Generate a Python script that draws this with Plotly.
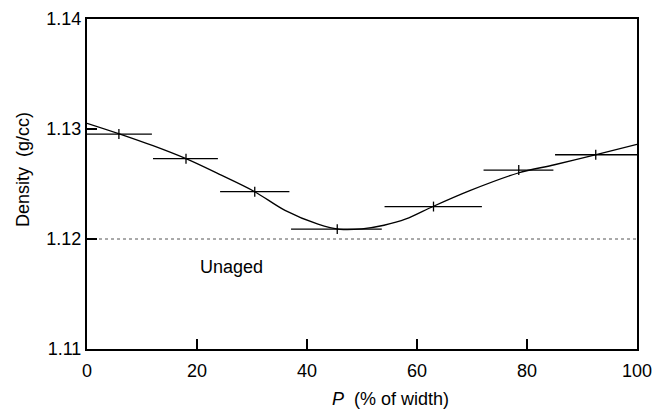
import plotly.graph_objects as go

# Measured points (centre, bin edges)
p_center = [5.8, 18.0, 30.5, 45.5, 63.0, 78.5, 92.5]
p_left = [0.0, 12.0, 24.2, 37.1, 54.1, 72.1, 85.1]
p_right = [11.8, 23.8, 36.8, 53.6, 71.8, 84.8, 100.0]
density = [1.12954, 1.1273, 1.1243, 1.1209, 1.12295, 1.12627, 1.12766]
density_err = 0.00045

# Smooth fitted curve
curve_x = [0, 6, 12, 18, 24, 30.5, 36, 42, 46, 50, 54, 58, 63, 69.6, 78.4, 85, 92.4, 100]
curve_y = [1.13052, 1.12954, 1.12848, 1.1273, 1.1259, 1.1243, 1.1226, 1.12135,
           1.12088, 1.12092, 1.12125, 1.12182, 1.12298, 1.1244, 1.1260, 1.12675,
           1.12765, 1.1286]

unaged_density = 1.12
unaged_label = "Unaged"

x_ticks = [0, 20, 40, 60, 80, 100]
y_ticks = [1.11, 1.12, 1.13, 1.14]
y_tick_text = ["1.11", "1.12", "1.13", "1.14"]
x_title = "<i>P</i>  (% of width)"
y_title = "Density  (g/cc)"

font = "Liberation Sans, Arial, sans-serif"

fig = go.Figure()

fig.add_trace(go.Scatter(
    x=[0, 100], y=[unaged_density, unaged_density], mode="lines",
    line=dict(color="#555555", width=1, dash="dot"), hoverinfo="skip", showlegend=False))

fig.add_trace(go.Scatter(
    x=curve_x, y=curve_y, mode="lines",
    line=dict(color="black", width=1.3, shape="spline", smoothing=0.9),
    showlegend=False))

fig.add_trace(go.Scatter(
    x=p_center, y=density, mode="markers",
    marker=dict(size=1, color="black"),
    error_x=dict(type="data", symmetric=False,
                 array=[r - c for r, c in zip(p_right, p_center)],
                 arrayminus=[c - l for c, l in zip(p_center, p_left)],
                 width=0, thickness=1.3, color="black"),
    error_y=dict(type="constant", value=density_err, width=0, thickness=1.3, color="black"),
    showlegend=False))

fig.add_annotation(x=26.3, y=1.11742, text=unaged_label, showarrow=False,
                   font=dict(family=font, size=18, color="black"))

# axis titles as annotations for exact placement
fig.add_annotation(xref="paper", yref="paper", x=0.5527, y=0, yshift=-50,
                   xanchor="center", yanchor="middle", text=x_title, showarrow=False,
                   font=dict(family=font, size=18, color="black"))
fig.add_annotation(xref="paper", yref="paper", x=0, xshift=-64, y=0.5424,
                   xanchor="center", yanchor="middle", text=y_title, textangle=-90,
                   showarrow=False, font=dict(family=font, size=18, color="black"))

fig.update_layout(
    width=652, height=412,
    margin=dict(l=87, r=15, t=19, b=63, autoexpand=False),
    paper_bgcolor="white", plot_bgcolor="white",
    font=dict(family=font, size=18, color="black"),
    xaxis=dict(range=[0, 100], tickvals=x_ticks, ticks="inside", ticklen=10,
               tickwidth=1.5, tickcolor="black", showline=True, linecolor="black",
               linewidth=2, mirror=True, showgrid=False, zeroline=False,
               ticklabelstandoff=4, ticklabeloverflow="allow"),
    yaxis=dict(range=[1.11, 1.14], tickvals=y_ticks, ticktext=y_tick_text,
               ticks="inside", ticklen=10, tickwidth=1.5, tickcolor="black",
               showline=True, linecolor="black", linewidth=2, mirror=True,
               showgrid=False, zeroline=False, ticklabeloverflow="allow"),
)

# remove the browser's default 8px body margin so the figure fills the window exactly
fig.write_html("out.html", config={"displayModeBar": False},
               post_script="document.body.style.margin='0';document.body.style.overflow='hidden';")
